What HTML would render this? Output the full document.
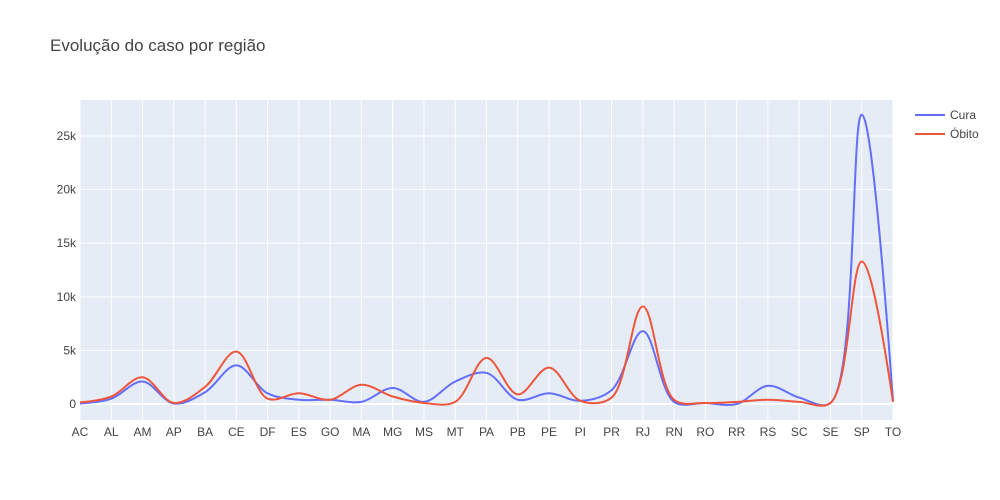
<!DOCTYPE html>
<html><head><meta charset="utf-8"><style>
body{margin:0;background:#fff;font-family:"Liberation Sans",sans-serif}
</style></head><body>
<svg id="c" width="1000" height="500" style="display:block">
<text x="50" y="51" font-size="17" fill="#444">Evolução do caso por região</text>
<rect x="80" y="100" width="813" height="320" fill="#e5ecf6"/>
<g id="grid"></g><g id="ticks" font-size="12" fill="#444"></g><g id="lines"></g>
<g font-size="12" fill="#444">
<g><line x1="915" y1="115" x2="945" y2="115" stroke="#636efa" stroke-width="2"/><text x="950" y="119">Cura</text></g>
<g><line x1="915" y1="134" x2="945" y2="134" stroke="#EF553B" stroke-width="2"/><text x="950" y="138">Óbito</text></g>
</g>
</svg>
<script>
const categories=["AC","AL","AM","AP","BA","CE","DF","ES","GO","MA","MG","MS","MT","PA","PB","PE","PI","PR","RJ","RN","RO","RR","RS","SC","SE","SP","TO"];
const cura=[50,500,2100,50,1100,3600,1000,400,400,200,1500,200,2100,2900,400,1000,300,1300,6800,200,100,0,1700,600,100,27000,300];
const obito=[150,700,2500,100,1600,4900,500,1000,400,1800,700,100,200,4300,900,3400,300,600,9100,400,100,200,400,200,100,13300,200];
const yTicks=[0,5000,10000,15000,20000,25000];
const yTickLabels=["0","5k","10k","15k","20k","25k"];
const NS="http://www.w3.org/2000/svg";
const x0=80,x1=893,yTop=100,yBot=420,yMin=-1490,yMax=28360;
const xs=i=>x0+i*(x1-x0)/(categories.length-1);
const ys=v=>yBot-(v-yMin)/(yMax-yMin)*(yBot-yTop);
function mk(t,a,p){const e=document.createElementNS(NS,t);for(const k in a)e.setAttribute(k,a[k]);p.appendChild(e);return e;}
const grid=document.getElementById('grid'),ticks=document.getElementById('ticks'),lines=document.getElementById('lines');
categories.forEach((c,i)=>{
 const l=mk('line',{x1:xs(i),x2:xs(i),y1:yTop,y2:yBot,stroke:'#fff','stroke-width':1},grid);
 
 
 const t=mk('text',{x:xs(i),y:436,'text-anchor':'middle'},ticks);t.textContent=c;
 
 
});
yTicks.forEach((v,i)=>{
 const l=mk('line',{x1:x0,x2:x1,y1:ys(v),y2:ys(v),stroke:'#fff','stroke-width':v===0?2:1},grid);
 
 
 const t=mk('text',{x:76,y:ys(v)+4,'text-anchor':'end'},ticks);t.textContent=yTickLabels[i];
 
 
});
function tangent(p,c,n,s){
 const d1x=p[0]-c[0],d1y=p[1]-c[1],d2x=n[0]-c[0],d2y=n[1]-c[1];
 const d1a=Math.pow(d1x*d1x+d1y*d1y,0.25),d2a=Math.pow(d2x*d2x+d2y*d2y,0.25);
 const nx=(d2a*d2a*d1x-d1a*d1a*d2x)*s,ny=(d2a*d2a*d1y-d1a*d1a*d2y)*s;
 const den1=3*d2a*(d1a+d2a),den2=3*d1a*(d1a+d2a);
 return [[c[0]+(den1&&nx/den1),c[1]+(den1&&ny/den1)],[c[0]-(den2&&nx/den2),c[1]-(den2&&ny/den2)]];
}
function spline(pts){
 const tg=[];for(let i=1;i<pts.length-1;i++)tg.push(tangent(pts[i-1],pts[i],pts[i+1],1));
 let d='M'+pts[0]+'Q'+tg[0][0]+' '+pts[1];
 for(let i=2;i<pts.length-1;i++)d+='C'+tg[i-2][1]+' '+tg[i-1][0]+' '+pts[i];
 d+='Q'+tg[pts.length-3][1]+' '+pts[pts.length-1];return d;
}
[[cura,'#636efa','line-cura'],[obito,'#EF553B','line-obito']].forEach(([vals,col,nm])=>{
 const p=mk('path',{d:spline(vals.map((v,i)=>[xs(i),ys(v)])),fill:'none',stroke:col,'stroke-width':2},lines);
 
 
});
</script>
</body></html>
